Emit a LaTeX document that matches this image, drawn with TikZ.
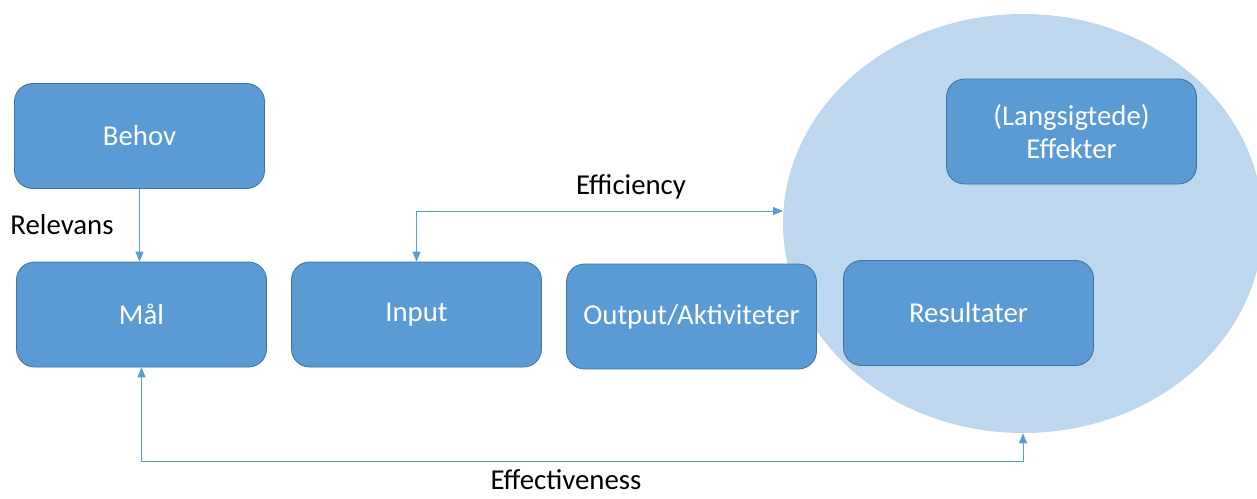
\documentclass[tikz,border=0pt]{standalone}
\usepackage{fontspec}
\setmainfont{Carlito}
\usetikzlibrary{arrows.meta}
\usetikzlibrary{shapes.geometric}

\definecolor{boxblue}{HTML}{5B9BD5}
\definecolor{boxedge}{HTML}{41719C}
\definecolor{zoneblue}{HTML}{BDD7EE}

\tikzset{
  box/.style={draw=boxedge, fill=boxblue, rounded corners=9pt, minimum width=125pt, minimum height=52.5pt, text=white, align=center, font=\fontsize{14.4}{16.6}\selectfont, inner sep=2pt},
  link/.style={draw=boxblue, line width=.5pt, -{Triangle[length=5pt,width=4pt]}},
  twoway/.style={link, {Triangle[length=5pt,width=4pt]}-{Triangle[length=5pt,width=4pt]}},
  lbl/.style={text=black, font=\fontsize{14.4}{16.6}\selectfont, inner sep=0pt}
}

\begin{document}
\begin{tikzpicture}[x=.5pt, y=-.5pt]
\useasboundingbox (0,0) rectangle (1257,498);

\node[ellipse, fill=zoneblue, minimum width=240pt, minimum height=209.5pt, inner sep=0pt] (zone) at (1023,223.5) {};

\node[box] (behov) at (139.5,136) {Behov};
\node[box] (maal) at (141.5,314.5) {Mål};
\node[box] (inp) at (416.5,314.5) {Input};
\node[box] (outp) at (691.5,316.5) {Output/Aktiviteter};
\node[box] (res) at (968.5,313) {Resultater};
\node[box] (effekt) at (1071.5,131.5) {(Langsigtede)\\Effekter};

\coordinate (effin) at (783,211);

\draw[link] (behov.south) -- (behov.south |- maal.north);
\draw[twoway] (inp.north) |- (effin);
\draw[twoway] (maal.south) -- ++(0,94) -| (zone.south);

\node[lbl] (relevans) at (62,225) {Relevans};
\node[lbl] (efficiency) at (631,187) {Efficiency};
\node[lbl, anchor=base] (effectiveness) at (566,489) {Effectiveness};
\end{tikzpicture}
\end{document}
